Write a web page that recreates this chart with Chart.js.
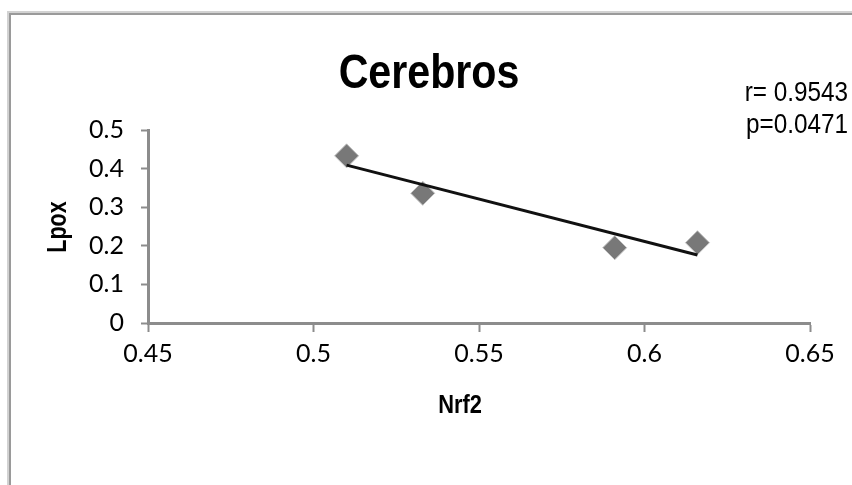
<!DOCTYPE html>
<html>
<head>
<meta charset="utf-8">
<script src="https://cdn.jsdelivr.net/npm/chart.js@4"></script>
<style>
  html, body { margin: 0; padding: 0; background: #fff; }
  #wrap { width: 852px; height: 485px; position: relative; }
</style>
</head>
<body>
<div id="wrap"><canvas id="c" width="852" height="485"></canvas></div>
<script>
// ---- data ----
const nrf2Values = [0.510, 0.533, 0.591, 0.616];
const lpoxValues = [0.433, 0.336, 0.195, 0.208];
const trendX = [0.510, 0.616];
const trendY = [0.409, 0.176];
const xTickLabels = ['0.45', '0.5', '0.55', '0.6', '0.65'];
const yTickLabels = ['0', '0.1', '0.2', '0.3', '0.4', '0.5'];
const chartTitle = 'Cerebros';
const xTitle = 'Nrf2';
const yTitle = 'Lpox';
const statLines = ['r= 0.9543', 'p=0.0471'];

const AXIS = '#8c8c8c';
const SANS = '"Liberation Sans", Arial, sans-serif';

function condensedText(ctx, text, x, y, sx) {
  ctx.save();
  ctx.translate(x, y);
  ctx.scale(sx, 1);
  ctx.fillText(text, 0, 0);
  ctx.restore();
}

const textPlugin = {
  id: 'texts',
  beforeDraw(chart) {
    const ctx = chart.ctx;
    ctx.save();
    ctx.fillStyle = '#fff';
    ctx.fillRect(0, 0, chart.width, chart.height);
    ctx.lineWidth = 2;
    ctx.strokeStyle = '#d2d2d2';
    ctx.beginPath();
    ctx.moveTo(8, 900); ctx.lineTo(8, 12); ctx.lineTo(900, 12);
    ctx.stroke();
    ctx.strokeStyle = '#9a9a9a';
    ctx.beginPath();
    ctx.moveTo(10, 900); ctx.lineTo(10, 14); ctx.lineTo(900, 14);
    ctx.stroke();
    ctx.restore();
  },
  afterDraw(chart) {
    const ctx = chart.ctx;
    ctx.save();
    ctx.fillStyle = '#000';
    ctx.textBaseline = 'alphabetic';

    ctx.textAlign = 'center';
    ctx.font = 'bold 49px ' + SANS;
    condensedText(ctx, chartTitle, 429, 88, 0.84);

    ctx.textAlign = 'right';
    ctx.font = '27px ' + SANS;
    condensedText(ctx, statLines[0], 848, 101, 0.9);
    condensedText(ctx, statLines[1], 848, 133, 0.9);

    ctx.textAlign = 'center';
    ctx.textBaseline = 'middle';
    ctx.font = 'bold 26px ' + SANS;
    condensedText(ctx, xTitle, 460, 406, 0.84);

    ctx.save();
    ctx.translate(59, 227);
    ctx.rotate(-Math.PI / 2);
    ctx.font = 'bold 27px ' + SANS;
    condensedText(ctx, yTitle, 0, 0, 0.8);
    ctx.restore();
    ctx.restore();
  }
};

new Chart(document.getElementById('c'), {
  type: 'scatter',
  data: {
    datasets: [
      {
        label: 'trend',
        type: 'line',
        data: trendX.map((x, i) => ({ x: x, y: trendY[i] })),
        borderColor: '#111',
        borderWidth: 3,
        pointRadius: 0,
        fill: false,
        order: 0
      },
      {
        label: 'Lpox',
        data: nrf2Values.map((x, i) => ({ x: x, y: lpoxValues[i] })),
        pointStyle: 'rectRot',
        pointRadius: 12,
        pointHoverRadius: 12,
        backgroundColor: '#787878',
        borderColor: '#c4c4c4',
        borderWidth: 1,
        order: 1
      }
    ]
  },
  options: {
    responsive: false,
    animation: false,
    events: [],
    layout: { padding: { top: 130, right: 42, left: 0, bottom: 0 } },
    plugins: { legend: { display: false }, tooltip: { enabled: false }, title: { display: false } },
    scales: {
      x: {
        type: 'linear',
        min: 0.45, max: 0.65,
        afterFit(s) { s.height = 485 - 323; },
        afterBuildTicks(s) { s.ticks = xTickLabels.map(v => ({ value: parseFloat(v) })); },
        ticks: {
          callback: (v, i) => xTickLabels[i],
          font: { family: 'Lato, Carlito, sans-serif', size: 25 },
          color: '#000',
          padding: 7,
          maxRotation: 0,
          autoSkip: false
        },
        grid: { drawOnChartArea: false, drawTicks: true, tickLength: 9, tickWidth: 2, tickColor: AXIS },
        border: { color: AXIS, width: 3 }
      },
      y: {
        type: 'linear',
        min: 0, max: 0.5,
        afterFit(s) { s.width = 148; },
        afterBuildTicks(s) { s.ticks = yTickLabels.map(v => ({ value: parseFloat(v) })); },
        ticks: {
          callback: (v, i) => yTickLabels[i],
          font: { family: 'Lato, Carlito, sans-serif', size: 25 },
          color: '#000',
          padding: 17,
          autoSkip: false
        },
        grid: { drawOnChartArea: false, drawTicks: true, tickLength: 7, tickWidth: 2, tickColor: AXIS },
        border: { color: AXIS, width: 3 }
      }
    }
  },
  plugins: [textPlugin]
});
</script>
</body>
</html>
